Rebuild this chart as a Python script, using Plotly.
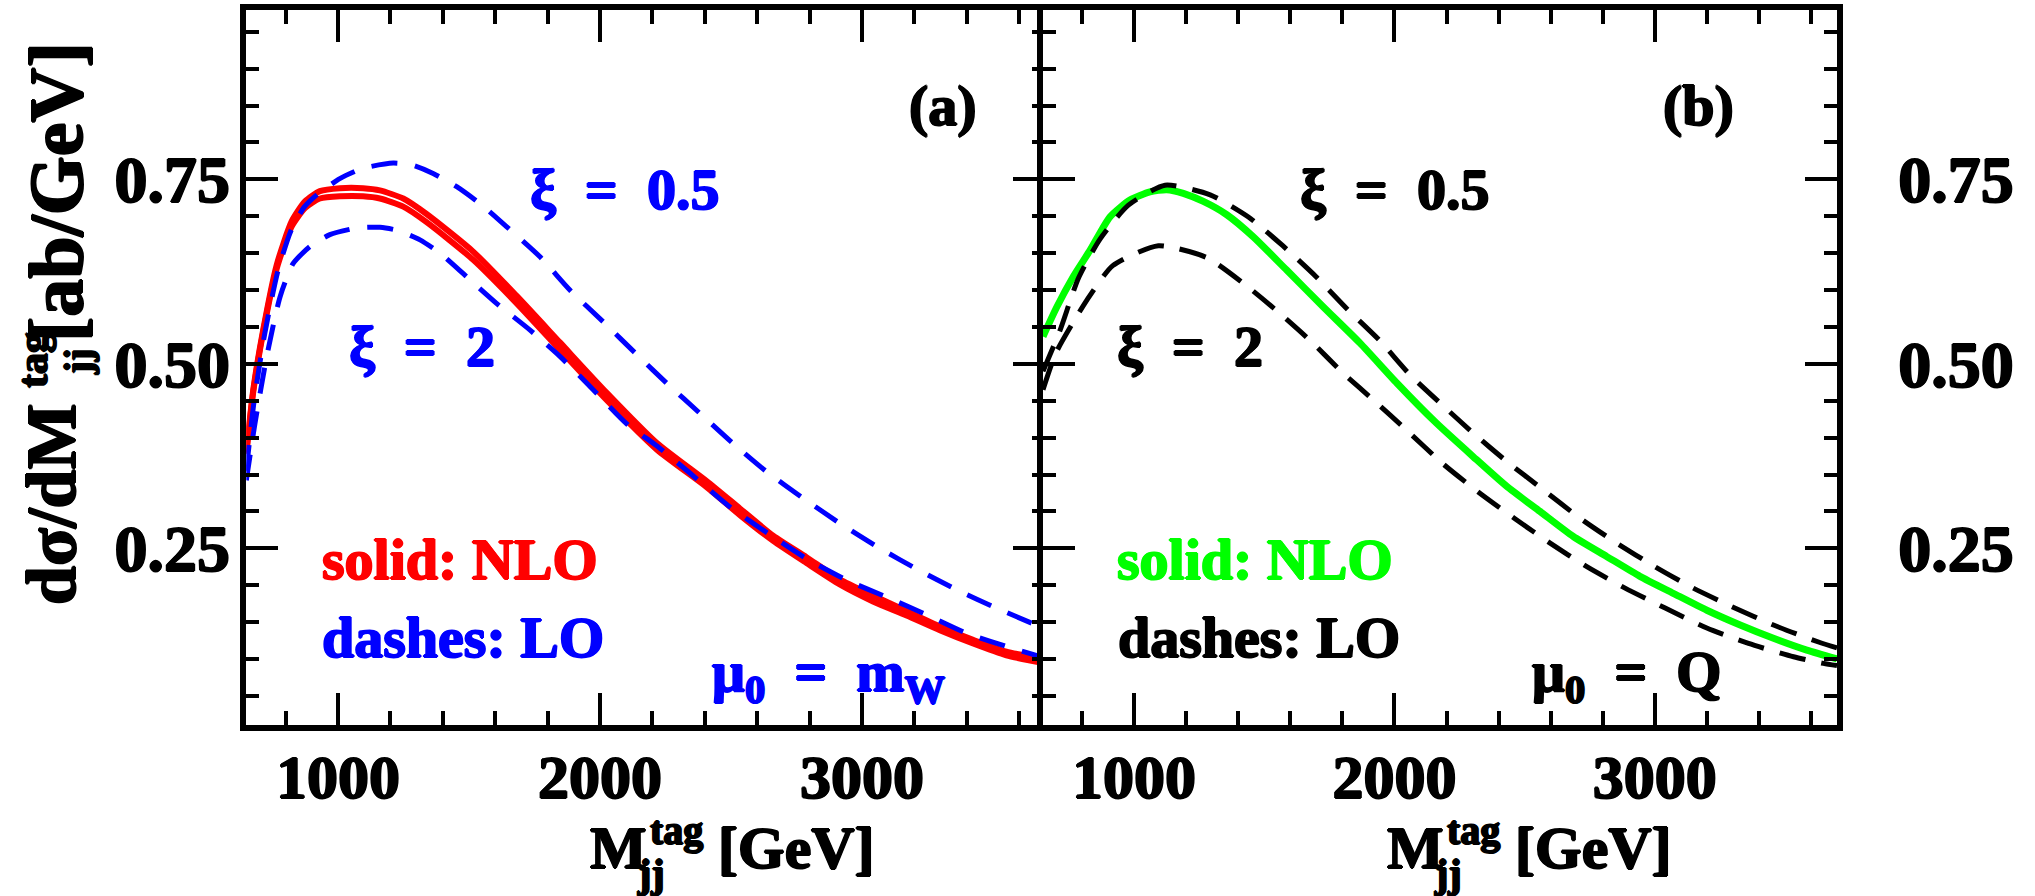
import plotly.graph_objects as go

W, H = 2035, 896
FONT = "Liberation Serif"

# ---------------- data ----------------
# panel (a): mu0 = mW
nlo_a_x = [650, 677, 715, 766, 823, 874, 931, 1007, 1096, 1160, 1249, 1338, 1516, 1682, 1847,
           2025, 2216, 2407, 2534, 2661, 2788, 2915, 3042, 3170, 3297, 3424, 3551, 3700]
nlo_a_hi = [0.380, 0.466, 0.547, 0.634, 0.693, 0.720, 0.734, 0.738, 0.738, 0.735, 0.724, 0.703,
            0.652, 0.592, 0.529, 0.461, 0.393, 0.341, 0.304, 0.267, 0.238, 0.208, 0.186, 0.165,
            0.144, 0.126, 0.110, 0.100]
nlo_a_lo = [0.378, 0.463, 0.544, 0.629, 0.686, 0.711, 0.724, 0.727, 0.727, 0.724, 0.713, 0.692,
            0.641, 0.582, 0.519, 0.451, 0.384, 0.333, 0.295, 0.260, 0.230, 0.201, 0.178, 0.159,
            0.139, 0.121, 0.105, 0.094]

lo_a_half_x = [650, 680, 720, 770, 820, 870, 919, 1007, 1096, 1211, 1287, 1363, 1453, 1542, 1643,
               1771, 1885, 2012, 2145, 2254, 2381, 2508, 2635, 2775, 2915, 3068, 3214, 3360,
               3513, 3665, 3700]
lo_a_half_y = [0.355, 0.450, 0.540, 0.625, 0.680, 0.712, 0.729, 0.751, 0.765, 0.772, 0.769, 0.758,
               0.740, 0.717, 0.686, 0.645, 0.600, 0.557, 0.511, 0.474, 0.433, 0.392, 0.354, 0.318,
               0.284, 0.250, 0.221, 0.194, 0.169, 0.146, 0.141]

lo_a_two_x = [650, 683, 728, 779, 829, 893, 969, 1071, 1160, 1224, 1313, 1389, 1491, 1605, 1732,
              1847, 1974, 2101, 2220, 2343, 2496, 2642, 2788, 2941, 3093, 3246, 3399, 3551,
              3665, 3700]
lo_a_two_y = [0.342, 0.419, 0.510, 0.591, 0.636, 0.659, 0.675, 0.684, 0.685, 0.681, 0.668, 0.650,
              0.618, 0.582, 0.546, 0.510, 0.465, 0.419, 0.388, 0.352, 0.306, 0.270, 0.236, 0.207,
              0.184, 0.160, 0.135, 0.117, 0.105, 0.102]

# panel (b): mu0 = Q
nlo_b_x = [650, 703, 766, 831, 907, 984, 1061, 1125, 1189, 1266, 1356, 1458, 1586, 1727, 1868,
           2009, 2160, 2303, 2431, 2559, 2687, 2815, 2943, 3071, 3200, 3328, 3456, 3584, 3700]
nlo_b_y = [0.537, 0.577, 0.618, 0.654, 0.699, 0.722, 0.733, 0.736, 0.731, 0.720, 0.702, 0.672,
           0.627, 0.577, 0.528, 0.474, 0.420, 0.374, 0.334, 0.300, 0.266, 0.239, 0.212, 0.189,
           0.166, 0.146, 0.128, 0.112, 0.100]

lo_b_half_x = [650, 715, 786, 869, 978, 1119, 1292, 1439, 1571, 1699, 1819, 1942, 2060, 2178,
               2303, 2437, 2562, 2712, 2854, 3001, 3148, 3296, 3456, 3629, 3700]
lo_b_half_y = [0.490, 0.545, 0.616, 0.669, 0.715, 0.742, 0.729, 0.699, 0.660, 0.618, 0.574, 0.532,
               0.485, 0.446, 0.406, 0.366, 0.332, 0.291, 0.257, 0.225, 0.196, 0.171, 0.146, 0.123,
               0.115]

lo_b_two_x = [650, 700, 818, 918, 1093, 1279, 1420, 1551, 1678, 1804, 1919, 2047, 2188, 2323,
              2463, 2598, 2739, 2886, 3040, 3200, 3360, 3533, 3648, 3700]
lo_b_two_y = [0.465, 0.515, 0.586, 0.633, 0.660, 0.644, 0.609, 0.571, 0.531, 0.487, 0.451, 0.410,
              0.364, 0.326, 0.290, 0.257, 0.225, 0.196, 0.169, 0.142, 0.121, 0.103, 0.094, 0.091]

x_range = [650, 3700]
y_range = [0.01, 0.98]
x_tick_step, x_minor_step = 1000, 200
y_tick_step, y_minor_step = 0.25, 0.05

RED, BLUE, GREEN, BLACK = "#ff0000", "#0000ff", "#00ff00", "#000000"


def shadow(c, r=1.0):
    return (f"{r}px 0px 0px {c}, -{r}px 0px 0px {c}, 0px {r}px 0px {c}, 0px -{r}px 0px {c}")


fig = go.Figure()


def line(x, y, color, width, dash=None, xa="x", ya="y"):
    fig.add_trace(go.Scatter(x=x, y=y, mode="lines", xaxis=xa, yaxis=ya,
                             line=dict(color=color, width=width, dash=dash,
                                       shape="spline", smoothing=0.6),
                             hoverinfo="skip", showlegend=False))


line(nlo_a_x, nlo_a_hi, RED, 6)
line(nlo_a_x, nlo_a_lo, RED, 6)
line(lo_a_half_x, lo_a_half_y, BLUE, 5, "26px,18px")
line(lo_a_two_x, lo_a_two_y, BLUE, 5, "26px,18px")

line(nlo_b_x, nlo_b_y, GREEN, 7, None, "x2", "y2")
line(lo_b_half_x, lo_b_half_y, BLACK, 5, "27px,16px", "x2", "y2")
line(lo_b_two_x, lo_b_two_y, BLACK, 5, "27px,16px", "x2", "y2")

xtickfont = dict(family=FONT, size=62, color="black", weight="bold", shadow=shadow(BLACK))
ytickfont = dict(family=FONT, size=66, color="black", weight="bold", shadow=shadow(BLACK))

common = dict(ticks="inside", ticklen=32, tickwidth=4, tickcolor="black",
              showline=True, linewidth=6, linecolor="black", mirror="allticks",
              showgrid=False, zeroline=False)

xcommon = dict(common, range=x_range, tick0=0, dtick=x_tick_step, ticklabelstandoff=-8,
               tickfont=xtickfont,
               minor=dict(tick0=0, dtick=x_minor_step, ticks="inside", ticklen=14,
                          tickwidth=4, tickcolor="black", showgrid=False))
ycommon = dict(common, range=y_range, tick0=0, dtick=y_tick_step, tickformat=".2f",
               tickfont=ytickfont,
               minor=dict(tick0=0, dtick=y_minor_step, ticks="inside", ticklen=13,
                          tickwidth=4, tickcolor="black", showgrid=False))

ydom = [1 - 725.4 / H, 1 - 9.6 / H]
fig.update_layout(
    width=W, height=H, margin=dict(l=0, r=0, t=0, b=0),
    paper_bgcolor="white", plot_bgcolor="white", showlegend=False,
    xaxis=dict(xcommon, domain=[246.3 / W, 1045.4 / W], anchor="y"),
    yaxis=dict(ycommon, domain=ydom, anchor="x", ticklabelstandoff=-3),
    xaxis2=dict(xcommon, domain=[1043 / W, 1837 / W], anchor="y2"),
    yaxis2=dict(ycommon, domain=ydom, anchor="x2", side="right", ticklabelstandoff=42),
)


def ann(text, xp, yp, size, color="black", xanchor="left", yanchor="middle", angle=0):
    fig.add_annotation(text=text, x=xp / W, y=1 - yp / H, xref="paper", yref="paper",
                       showarrow=False, xanchor=xanchor, yanchor=yanchor, textangle=angle,
                       font=dict(family=FONT, size=size, color=color, weight="bold",
                                 shadow=shadow(color)))


S = "\u2002"
# panel (a)
ann("(a)", 943, 106, 58, BLACK, "center")
ann("ξ" + S + "=" + S + "0.5", 528, 189, 58, BLUE)
ann("ξ" + S + "=" + S + "2", 347, 346, 58, BLUE)
ann("solid: NLO", 320, 559, 58, RED)
ann("dashes: LO", 320, 637, 58, BLUE)
ann("μ<sub>0</sub>" + S + "=" + S + "m<sub>W</sub>", 710, 675, 58, BLUE)
# panel (b)
ann("(b)", 1698, 106, 58, BLACK, "center")
ann("ξ" + S + "=" + S + "0.5", 1298, 189, 58, BLACK)
ann("ξ" + S + "=" + S + "2", 1115, 346, 58, BLACK)
ann("solid: NLO", 1115, 559, 58, GREEN)
ann("dashes: LO", 1116, 637, 58, BLACK)
ann("μ<sub>0</sub>" + S + "=" + S + "Q", 1530, 675, 58, BLACK)

# x-axis titles
for dx in (0, 797):
    ann("M", 588 + dx, 848, 60)
    ann("tag", 648 + dx, 830, 40)
    ann("jj", 635 + dx, 873, 40)
    ann("[GeV]", 716 + dx, 848, 60)

# y-axis title (rotated)
ann("dσ/dM", 51, 505, 70, BLACK, "center", "middle", -90)
ann("tag", 33, 360, 42, BLACK, "center", "middle", -90)
ann("jj", 78, 362, 38, BLACK, "center", "middle", -90)
ann("[ab/GeV]", 56, 192, 76, BLACK, "center", "middle", -90)

fig.write_html("out.html")
